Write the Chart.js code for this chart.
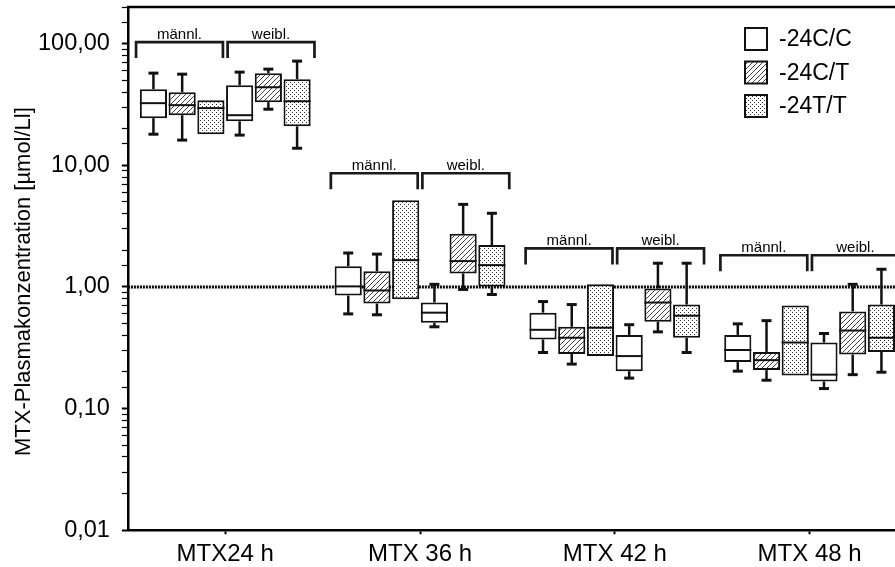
<!DOCTYPE html>
<html>
<head>
<meta charset="utf-8">
<script src="https://cdn.jsdelivr.net/npm/chart.js@4.4.0/dist/chart.umd.min.js"></script>
<style>
html, body { margin: 0; padding: 0; background: #fff; overflow: hidden; }
#wrap { width: 920px; height: 567px; }
</style>
</head>
<body>
<div id="wrap"><canvas id="mtxChart" width="920" height="567"></canvas></div>
<script>
const kategorien = ['MTX24 h', 'MTX 36 h', 'MTX 42 h', 'MTX 48 h'];
const genotypen = ['-24C/C', '-24C/T', '-24T/T'];
const geschlechter = ['männl.', 'weibl.'];
const yTitel = 'MTX-Plasmakonzentration [µmol/Ll]';

// je Zeitpunkt: [min, q1, median, q3, max]
const maennlCC = [[18.0, 24.4, 32.4, 42.2, 57.2], [0.60, 0.85, 1.01, 1.48, 1.90], [0.289, 0.37, 0.444, 0.614, 0.758], [0.203, 0.241, 0.303, 0.403, 0.497]];
const maennlCT = [[16.1, 25.8, 31.2, 39.9, 56.1], [0.59, 0.73, 0.935, 1.345, 1.86], [0.232, 0.281, 0.382, 0.47, 0.716], [0.171, 0.207, 0.25, 0.292, 0.528]];
const maennlTT = [[18.0, 18.0, 29.5, 34.3, 34.3], [0.79, 0.79, 1.66, 5.15, 5.15], [0.27, 0.27, 0.462, 1.05, 1.05], [0.187, 0.187, 0.349, 0.704, 0.704]];
const weiblCC = [[17.7, 23.0, 25.8, 45.5, 58.3], [0.47, 0.507, 0.614, 0.744, 1.05], [0.178, 0.203, 0.27, 0.403, 0.489], [0.146, 0.167, 0.190, 0.349, 0.414]];
const weiblCT = [[28.9, 33.0, 43.8, 57.2, 61.7], [0.953, 1.29, 1.63, 2.73, 4.77], [0.427, 0.517, 0.744, 0.972, 1.566], [0.190, 0.278, 0.438, 0.629, 1.05]];
const weiblTT = [[13.8, 20.9, 33.6, 51.0, 71.8], [0.866, 1.01, 1.51, 2.21, 4.03], [0.289, 0.382, 0.58, 0.716, 1.566], [0.199, 0.292, 0.382, 0.716, 1.397]];

const yTickWerte = [0.01, 0.1, 1, 10, 100];
const yTickTexte = ['0,01', '0,10', '1,00', '10,00', '100,00'];
const klammerHoehe = [103, 8.6, 2.07, 1.82];
const referenzWert = 1;

const reihen = [
    { sex: 0, geno: 0, werte: maennlCC },
    { sex: 0, geno: 1, werte: maennlCT },
    { sex: 0, geno: 2, werte: maennlTT },
    { sex: 1, geno: 0, werte: weiblCC },
    { sex: 1, geno: 1, werte: weiblCT },
    { sex: 1, geno: 2, werte: weiblTT }
];

const canvas = document.getElementById('mtxChart');
const ctx = canvas.getContext('2d');
const schrift = "'Liberation Sans', Arial, sans-serif";

function musterSchraffur() {
    const c = document.createElement('canvas');
    c.width = 5; c.height = 5;
    const g = c.getContext('2d');
    g.fillStyle = '#ffffff';
    g.fillRect(0, 0, 5, 5);
    g.strokeStyle = '#404040';
    g.lineWidth = 1;
    g.beginPath();
    g.moveTo(-1, 6); g.lineTo(6, -1);
    g.moveTo(-1, 1); g.lineTo(1, -1);
    g.moveTo(4, 6); g.lineTo(6, 4);
    g.stroke();
    return ctx.createPattern(c, 'repeat');
}

function musterPunkte() {
    const c = document.createElement('canvas');
    c.width = 4; c.height = 4;
    const g = c.getContext('2d');
    g.fillStyle = '#ffffff';
    g.fillRect(0, 0, 4, 4);
    g.fillStyle = '#303030';
    g.fillRect(0, 0, 1, 1);
    g.fillRect(2, 2, 1, 1);
    return ctx.createPattern(c, 'repeat');
}

const muster = ['#ffffff', musterSchraffur(), musterPunkte()];

const boxDetails = {
    id: 'boxDetails',
    beforeDatasetsDraw(chart) {
        const { ctx: g, chartArea: a, scales: { y } } = chart;
        const py = y.getPixelForValue(referenzWert);
        g.save();
        g.strokeStyle = '#000';
        g.lineWidth = 3;
        g.setLineDash([2, 1]);
        g.beginPath();
        g.moveTo(a.left, py);
        g.lineTo(a.right, py);
        g.stroke();
        g.restore();
    },
    afterDatasetsDraw(chart) {
        const { ctx: g, scales: { y } } = chart;
        g.save();
        g.strokeStyle = '#111';
        reihen.forEach((r, i) => {
            const meta = chart.getDatasetMeta(i);
            meta.data.forEach((bar, j) => {
                const [lo, q1, med, q3, hi] = r.werte[j];
                const half = bar.width / 2;
                // median
                g.lineWidth = 2;
                g.beginPath();
                g.moveTo(bar.x - half, y.getPixelForValue(med));
                g.lineTo(bar.x + half, y.getPixelForValue(med));
                g.stroke();
                // whiskers
                [[q3, hi], [q1, lo]].forEach(([von, bis]) => {
                    if (von === bis) return;
                    const y1 = y.getPixelForValue(von);
                    const y2 = y.getPixelForValue(bis);
                    g.lineWidth = 2.5;
                    g.beginPath();
                    g.moveTo(bar.x, y1);
                    g.lineTo(bar.x, y2);
                    g.stroke();
                    g.lineWidth = 3;
                    g.beginPath();
                    g.moveTo(bar.x - 5, y2);
                    g.lineTo(bar.x + 5, y2);
                    g.stroke();
                });
            });
        });
        g.restore();
    },
    afterDraw(chart) {
        const { ctx: g, chartArea: a, scales: { x, y } } = chart;
        g.save();
        // oberer Rahmen
        g.strokeStyle = '#000';
        g.lineWidth = 2.5;
        g.beginPath();
        g.moveTo(a.left - 1, a.top);
        g.lineTo(a.right, a.top);
        g.stroke();

        // Achsentitel
        g.save();
        g.translate(24, (a.top + a.bottom) / 2 + 13);
        g.rotate(-Math.PI / 2);
        g.fillStyle = '#000';
        g.font = '22px ' + schrift;
        g.textAlign = 'center';
        g.textBaseline = 'middle';
        g.fillText(yTitel, 0, 0);
        g.restore();

        // Klammern männl. / weibl.
        const cw = (a.right - a.left) / kategorien.length;
        g.strokeStyle = '#1a1a1a';
        g.lineWidth = 2.7;
        g.fillStyle = '#000';
        g.font = '15px ' + schrift;
        g.textAlign = 'center';
        g.textBaseline = 'alphabetic';
        kategorien.forEach((k, j) => {
            const cx = x.getPixelForValue(j);
            const top = y.getPixelForValue(klammerHoehe[j]);
            [[cx - 0.458 * cw, cx - 0.012 * cw], [cx + 0.012 * cw, cx + 0.458 * cw]].forEach(([x1, x2], s) => {
                g.beginPath();
                g.moveTo(x1, top + 16);
                g.lineTo(x1, top);
                g.lineTo(x2, top);
                g.lineTo(x2, top + 16);
                g.stroke();
                g.fillText(geschlechter[s], (x1 + x2) / 2, top - 3);
            });
        });

        // Legende
        g.font = '23px ' + schrift;
        g.textAlign = 'left';
        g.textBaseline = 'middle';
        genotypen.forEach((name, i) => {
            const ly = 28 + i * 33.5;
            g.fillStyle = muster[i];
            g.fillRect(745, ly, 22, 22);
            g.strokeStyle = '#111';
            g.lineWidth = 2;
            g.strokeRect(745, ly, 22, 22);
            g.fillStyle = '#000';
            g.fillText(name, 779, ly + 12);
        });
        g.restore();
    }
};

new Chart(ctx, {
    type: 'bar',
    data: {
        labels: kategorien,
        datasets: reihen.map(r => ({
            label: geschlechter[r.sex] + ' ' + genotypen[r.geno],
            data: r.werte.map(w => [w[1], w[3]]),
            backgroundColor: muster[r.geno],
            borderColor: '#111',
            borderWidth: 2,
            borderSkipped: false,
            categoryPercentage: 0.885,
            barPercentage: 0.945
        }))
    },
    options: {
        responsive: false,
        animation: false,
        layout: { padding: { left: 26, right: 13, top: 7, bottom: -8 } },
        plugins: {
            legend: { display: false },
            tooltip: { enabled: false }
        },
        scales: {
            x: {
                grid: { drawOnChartArea: false, offset: false, tickLength: 4, tickColor: '#000', tickWidth: 2 },
                border: { display: true, color: '#000', width: 2.5 },
                ticks: { color: '#000', font: { family: schrift, size: 24 }, padding: 6 }
            },
            y: {
                type: 'logarithmic',
                min: 0.01,
                max: 200,
                afterFit(s) { s.paddingTop = 0; s.paddingBottom = 0; },
                grid: {
                    drawOnChartArea: false,
                    tickLength: 6,
                    tickColor: '#000',
                    tickWidth: c => yTickWerte.some(t => Math.abs(c.tick.value - t) / t < 1e-6) ? 2 : 1.2
                },
                border: { display: true, color: '#000', width: 2.5 },
                ticks: {
                    autoSkip: false,
                    color: '#000',
                    font: { family: schrift, size: 23.5 },
                    padding: 12,
                    callback: v => {
                        const i = yTickWerte.findIndex(t => Math.abs(v - t) / t < 1e-6);
                        return i >= 0 ? yTickTexte[i] : '';
                    }
                }
            }
        }
    },
    plugins: [boxDetails]
});
</script>
</body>
</html>
